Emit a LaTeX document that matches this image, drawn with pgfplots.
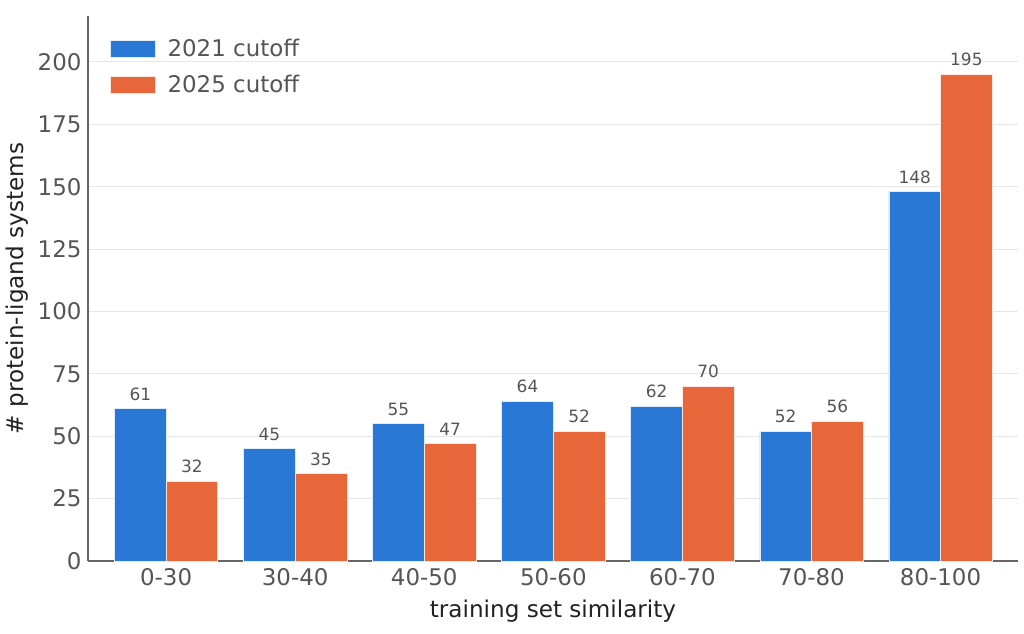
\documentclass[border=0pt]{standalone}
\usepackage{pgfplots}
\pgfplotsset{compat=1.18}
\usepackage{fontspec}
\setmainfont{DejaVu Sans}
\definecolor{cblue}{HTML}{2A78D6}
\definecolor{corange}{HTML}{E8673A}
\definecolor{tickgray}{HTML}{555555}
\definecolor{axgray}{HTML}{666666}
\definecolor{gridgray}{HTML}{E6E6E6}
\begin{document}
\begin{tikzpicture}
\begin{axis}[
  scale only axis,
  width=930bp, height=545bp,
  xmin=-0.605, xmax=6.6,
  ymin=0, ymax=218.4,
  ybar=0pt,
  bar width=0.4,
  axis x line*=bottom, axis y line*=left,
  axis line style={axgray, line width=1.2bp},
  xtick={0,1,2,3,4,5,6},
  xticklabels={0-30,30-40,40-50,50-60,60-70,70-80,80-100},
  ytick={0,25,50,75,100,125,150,175,200},
  major tick length=0pt,
  ymajorgrids,
  grid style={gridgray, line width=1bp},
  tick label style={font=\fontsize{23}{27}\selectfont, text=tickgray},
  /pgf/number format/assume math mode=true,
  xticklabel style={yshift=-4bp},
  yticklabel style={xshift=-3bp},
  xlabel={training set similarity},
  ylabel={\# protein-ligand systems},
  label style={font=\fontsize{23.2}{27}\selectfont, text=black!87},
  x label style={at={(axis description cs:0.5,-0.0915)}, anchor=center},
  y label style={at={(axis description cs:-0.0765,0.5)}, anchor=center},
  nodes near coords,
  every node near coord/.append style={font=\fontsize{17}{20}\selectfont, text=tickgray, anchor=south, inner sep=0pt, yshift=8bp},
  legend style={at={(axis description cs:0.017,0.972)}, anchor=north west, draw=none, fill=none,
    font=\fontsize{23}{27}\selectfont, text=tickgray, row sep=13bp, column sep=10bp, inner sep=6bp},
  legend cell align=left,
  legend image code/.code={\fill[#1] (0bp,-8.5bp) rectangle (45bp,8.5bp);},
  clip=false,
]
\addplot[bar shift=-0.2, fill=cblue, draw=white!85!cblue, line width=0.6bp] coordinates {
 (0,61) (1,45) (2,55) (3,64) (4,62) (5,52) (6,148)};
\addlegendentry{2021 cutoff}
\addplot[bar shift=0.2, fill=corange, draw=white!85!corange, line width=0.6bp] coordinates {
 (0,32) (1,35) (2,47) (3,52) (4,70) (5,56) (6,195)};
\addlegendentry{2025 cutoff}
\end{axis}
\pgfresetboundingbox
\path (current axis.south west) ++(-88bp,-73bp) rectangle ++(1024bp,634bp);
\end{tikzpicture}
\end{document}
